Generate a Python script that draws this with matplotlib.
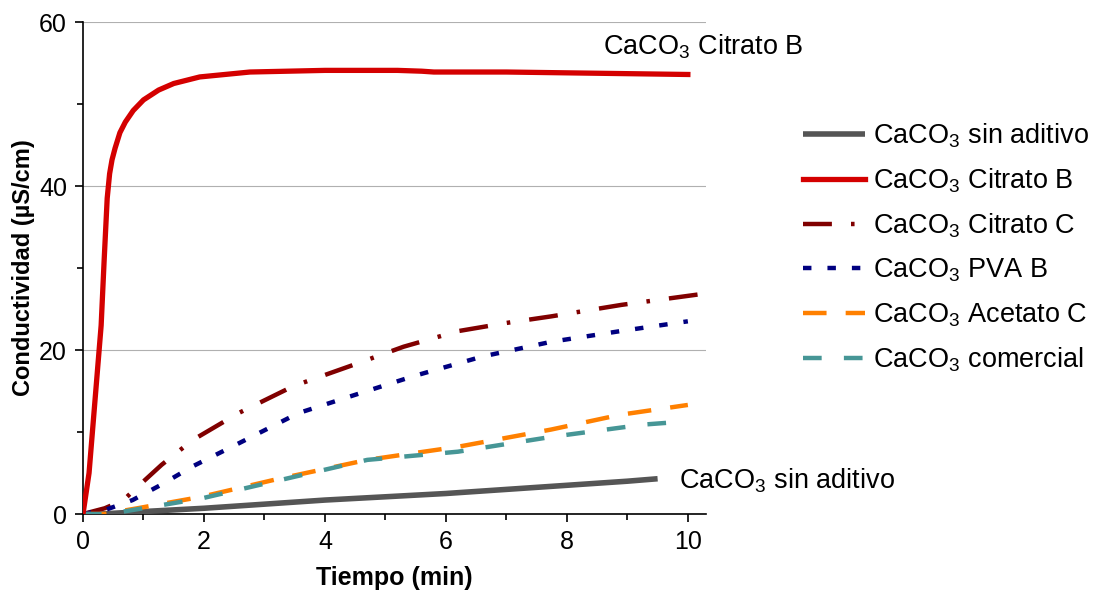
import matplotlib
matplotlib.use('Agg')
import matplotlib.pyplot as plt
from matplotlib.ticker import MultipleLocator

plt.rcParams['font.family'] = ['Liberation Sans', 'DejaVu Sans']
plt.rcParams['mathtext.fontset'] = 'custom'
plt.rcParams['mathtext.rm'] = 'Liberation Sans'

# data
t_sin = [0.0, 0.3, 1.0, 2.0, 3.0, 4.0, 5.0, 6.0, 7.0, 8.0, 9.0, 9.5]
y_sin = [0.0, 0.0, 0.3, 0.7, 1.2, 1.7, 2.1, 2.5, 3.0, 3.5, 4.0, 4.3]

t_citB = [0, 0.1, 0.2, 0.3, 0.35, 0.4, 0.44, 0.48, 0.53, 0.61, 0.7, 0.83, 1.0, 1.25,
          1.5, 1.93, 2.76, 4.0, 5.2, 5.6, 5.8, 7.0, 8.0, 9.0, 10.0]
y_citB = [0, 5, 14, 23, 31, 38.5, 41.5, 43.2, 44.6, 46.5, 47.8, 49.2, 50.5, 51.7,
          52.5, 53.3, 53.9, 54.1, 54.1, 54.0, 53.9, 53.9, 53.8, 53.7, 53.6]

t_citC = [0, 0.36, 0.67, 0.9, 1.3, 1.81, 2.57, 3.48, 4.4, 5.3, 6.2, 7.0, 7.74, 8.9, 10.0, 10.3]
y_citC = [0, 0.7, 1.7, 3.3, 6.0, 9.0, 12.3, 15.6, 18.0, 20.4, 22.3, 23.3, 24.1, 25.5, 26.6, 26.9]

t_pva = [0, 0.37, 0.82, 1.3, 1.81, 2.57, 3.56, 4.4, 5.46, 6.6, 7.74, 8.88, 10.0]
y_pva = [0, 0.5, 1.7, 3.6, 5.8, 8.6, 12.3, 14.3, 16.8, 19.2, 21.0, 22.3, 23.5]

t_acet = [0, 0.35, 0.9, 1.96, 3.18, 4.7, 6.2, 7.74, 8.88, 10.0]
y_acet = [0, 0.0, 0.7, 2.1, 4.2, 6.6, 8.2, 10.3, 12.1, 13.3]

t_com = [0, 0.3, 0.67, 1.96, 3.18, 4.7, 6.2, 7.74, 9.26, 9.8]
y_com = [0, 0.0, 0.3, 1.9, 4.0, 6.6, 7.6, 9.4, 10.9, 11.2]

SUB = r'CaCO$_\mathregular{3}$ '
labels = ['sin aditivo', 'Citrato B', 'Citrato C', 'PVA B', 'Acetato C', 'comercial']

fig = plt.figure(figsize=(10.94, 5.96), dpi=100)
ax = fig.add_axes([83 / 1094, 1 - 514 / 596, (706 - 83) / 1094, (514 - 22) / 596])

ax.plot(t_sin, y_sin, color='#555555', lw=4, solid_capstyle='butt', label=SUB + labels[0], zorder=3)
ax.plot(t_citB, y_citB, color='#d40000', lw=3.8, label=SUB + labels[1], zorder=4)
ax.plot(t_citC, y_citC, color='#800000', lw=3.2, ls=(0, (6.5, 4.3, 0.8, 4.3)), label=SUB + labels[2], zorder=3)
ax.plot(t_pva, y_pva, color='#000080', lw=3.2, ls=(0, (1.9, 3.6)), label=SUB + labels[3], zorder=3)
ax.plot(t_acet, y_acet, color='#ff8000', lw=3.2, ls=(0, (5.3, 4.3)), label=SUB + labels[4], zorder=3)
ax.plot(t_com, y_com, color='#469696', lw=3.2, ls=(0, (4.2, 5.0)), label=SUB + labels[5], zorder=3)

ax.set_xlim(0, 10.3)
ax.set_ylim(0, 60)
ax.xaxis.set_major_locator(MultipleLocator(2))
ax.xaxis.set_minor_locator(MultipleLocator(1))
ax.yaxis.set_major_locator(MultipleLocator(20))
ax.yaxis.set_minor_locator(MultipleLocator(10))
ax.grid(axis='y', which='major', color='#b0b0b0', lw=0.8)
ax.set_axisbelow(True)
for s in ['top', 'right']:
    ax.spines[s].set_visible(False)
ax.spines['left'].set_linewidth(1.2)
ax.spines['bottom'].set_linewidth(1.2)
ax.tick_params(which='major', direction='out', length=6, width=1.2, labelsize=18, pad=5.5)
ax.tick_params(which='minor', direction='out', length=4, width=1.2)

ax.set_xlabel('Tiempo (min)', fontsize=18, fontweight='bold', labelpad=9)
ax.set_ylabel('Conductividad (µS/cm)', fontsize=17, fontweight='bold', labelpad=3)

ax.text(8.6, 57, SUB + 'Citrato B', fontsize=19.5, va='center', ha='left', clip_on=False)
ax.text(9.85, 4.0, SUB + 'sin aditivo', fontsize=19.5, va='center', ha='left', clip_on=False)

fig.legend(loc='upper left', bbox_to_anchor=(803 / 1094, 1 - 121 / 596), frameon=False,
           fontsize=19.5, handlelength=2.3, handletextpad=0.3, labelspacing=0.62, borderpad=0,
           borderaxespad=0)

fig.savefig('out.png', dpi=100)
